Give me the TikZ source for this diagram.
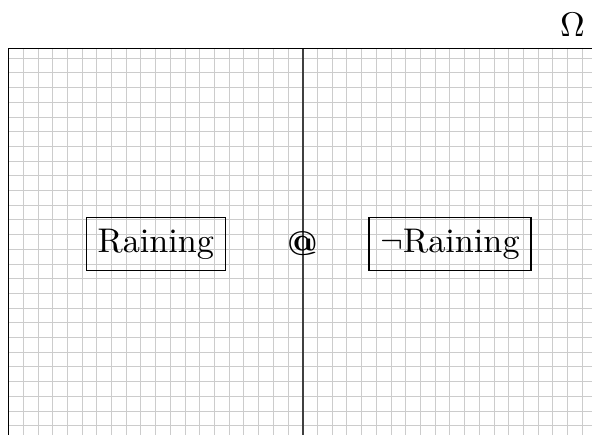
\documentclass[tikz,border=0pt]{standalone}
\begin{document}
\begin{tikzpicture}[x=1pt,y=1pt,
  gridline/.style={draw=black!20, line width=1pt},
  frameline/.style={draw=black, line width=1.3pt},
  midline/.style={draw=black!75, line width=1.6pt},
  lbl/.style={scale=3.42, transform shape},
  boxed/.style={lbl, draw, line width=1.2pt}]
\useasboundingbox (0,0) rectangle (592,435);
\begin{scope}
\clip (8.6,0) rectangle (592,386.7);
\foreach \k in {0,...,40} \draw[gridline] (8.6+14.71*\k,0) -- ++(0,386.7);
\foreach \k in {0,...,26} \draw[gridline] (8.6,376.7-14.7*\k) -- ++(583.4,0);
\end{scope}
\coordinate (TL) at (8.6,386.7);
\coordinate (TR) at (592,386.7);
\coordinate (BL) at (8.6,0);
\coordinate (MT) at (302.7,386.7);
\coordinate (MB) at (302.7,0);
\draw[midline] (MB) -- (MT);
\draw[frameline] (BL) -- (TL) -- (TR);
\node[boxed] (rain) at (155.8,191) {Raining};
\node[boxed] (nrain) at (450,191) {$\neg$Raining};
\node[lbl] (at) at (303,191) {\textbf{@}};
\node[lbl] (omega) at (572.5,410.5) {$\Omega$};
\end{tikzpicture}
\end{document}
